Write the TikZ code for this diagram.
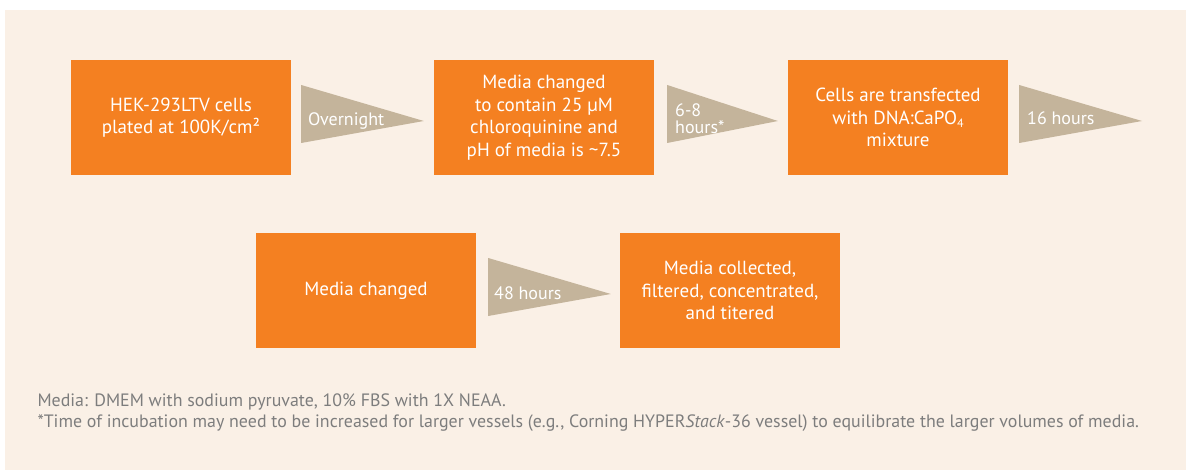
\documentclass[tikz,border=0pt]{standalone}
\usepackage{fontspec}
\setmainfont{PT Sans}
\definecolor{bgc}{RGB}{250,240,230}
\definecolor{orng}{RGB}{244,128,33}
\definecolor{tanc}{RGB}{196,180,155}
\definecolor{footc}{RGB}{125,125,125}
\newcommand{\boxfont}{\fontsize{19}{22.6}\selectfont}
\newcommand{\lblfont}{\fontsize{18}{20}\selectfont}
\newcommand{\footfont}{\fontsize{17.9}{20.7}\selectfont}
\begin{document}
\begin{tikzpicture}[x=1pt,y=-1pt,
  stepbox/.style={fill=orng, text=white, align=center, font=\boxfont,
    inner sep=0pt, minimum width=220pt, minimum height=115pt},
  arrowtri/.style={fill=tanc},
  lbl/.style={text=white, font=\lblfont, inner sep=0pt, anchor=base west},
  footnote/.style={text=footc, font=\footfont, inner sep=0pt, anchor=base west}]
\useasboundingbox (0,0) rectangle (1186,473);
\fill[white] (0,0) rectangle (1186,473);
\fill[bgc] (4.6,10) rectangle (1186,470);

% boxes
\node[stepbox] (b1) at (181,117.5) {HEK-293LTV cells\\plated at 100K/cm²};
\node[stepbox] (b2) at (544,117.5) {Media changed\\to contain 25 µM\\chloroquinine and\\pH of media is \textasciitilde7.5};
\node[stepbox] (b3) at (898,117.5) {Cells are transfected\\with DNA:CaPO\raisebox{-3pt}{\fontsize{12}{12}\selectfont 4}\\mixture};
\node[stepbox] (b4) at (366,290.5) {Media changed};
\node[stepbox] (b5) at (730,290.5) {Media collected,\\filtered, concentrated,\\and titered};

% triangles (connectors)
\coordinate (t3tip) at (1142,121);
\fill[arrowtri] ([xshift=10pt,yshift=-25.5pt]b1.east) -- ([xshift=-10pt,yshift=-3.5pt]b2.west) -- ([xshift=10pt,yshift=32.5pt]b1.east) -- cycle;
\fill[arrowtri] ([xshift=13pt,yshift=-25.5pt]b2.east) -- ([xshift=-10pt,yshift=-3.5pt]b3.west) -- ([xshift=13pt,yshift=32.5pt]b2.east) -- cycle;
\fill[arrowtri] ([xshift=11pt,yshift=-25.5pt]b3.east) -- (t3tip) -- ([xshift=11pt,yshift=32.5pt]b3.east) -- cycle;
\fill[arrowtri] ([xshift=12pt,yshift=-25.5pt]b4.east) -- ([xshift=-9pt,yshift=-3.5pt]b5.west) -- ([xshift=12pt,yshift=32.5pt]b4.east) -- cycle;

% triangle labels
\node[lbl] (l1) at (308,126) {Overnight};
\node[lbl] (l2a) at (675,117) {6-8};
\node[lbl] (l2b) at (675,134) {hours*};
\node[lbl] (l3) at (1027,125) {16 hours};
\node[lbl] (l4) at (494,299.3) {48 hours};

% footnotes
\node[footnote] (f1) at (37.3,406.7) {Media: DMEM with sodium pyruvate, 10\% FBS with 1X NEAA.};
\node[footnote] (f2) at (37.3,427.5) {*Time of incubation may need to be increased for larger vessels (e.g., Corning HYPER\textit{Stack}-36 vessel) to equilibrate the larger volumes of media.};
\end{tikzpicture}
\end{document}
